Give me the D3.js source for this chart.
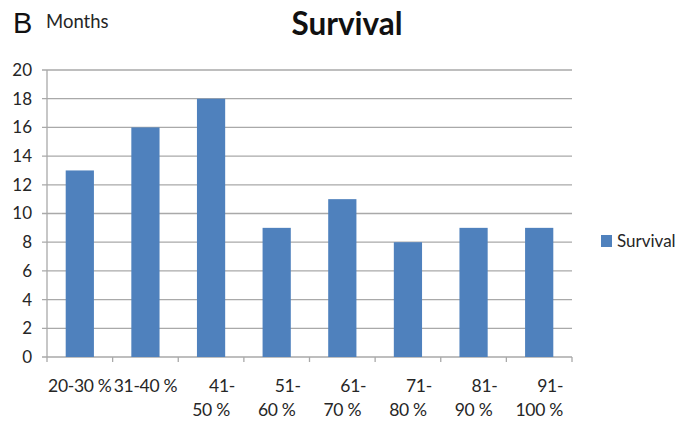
<!DOCTYPE html>
<html>
<head>
<meta charset="utf-8">
<script src="https://cdn.jsdelivr.net/npm/d3@7"></script>
<style>
  html, body { margin: 0; padding: 0; background: #fff; }
  svg { display: block; font-family: Lato, "Open Sans", sans-serif; }
</style>
</head>
<body>
<svg id="chart" width="679" height="422"></svg>
<script>
// Median survival (months) by range
const categories = ["20-30 %", "31-40 %", "41-|50 %", "51-|60 %", "61-|70 %", "71-|80 %", "81-|90 %", "91-|100 %"];
const survival = [13, 16, 18, 9, 11, 8, 9, 9];
const yTicks = [0, 2, 4, 6, 8, 10, 12, 14, 16, 18, 20];
const seriesName = "Survival";

const svg = d3.select("#chart");
const plot = { left: 47, right: 572, top: 70, bottom: 357 };
const barColor = "#4f81bd";
const gridColor = "#a9a9a9";
const textColor = "#262626";

const x = d3.scaleBand().domain(categories).range([plot.left, plot.right]).paddingInner(0.57).paddingOuter(0.285);
const y = d3.scaleLinear().domain([0, 20]).range([plot.bottom, plot.top]);

// Horizontal gridlines
svg.append("g").selectAll("line").data(yTicks).join("line")
  .attr("x1", plot.left - 5).attr("x2", plot.right)
  .attr("y1", d => y(d)).attr("y2", d => y(d))
  .attr("stroke", gridColor).attr("stroke-width", 1.3);

// Y axis line
svg.append("line")
  .attr("x1", plot.left).attr("x2", plot.left)
  .attr("y1", plot.top).attr("y2", plot.bottom)
  .attr("stroke", gridColor).attr("stroke-width", 1.3);

// Y tick labels
svg.append("g").selectAll("text").data(yTicks).join("text")
  .attr("x", 32).attr("y", d => y(d)).attr("dy", "0.35em")
  .attr("text-anchor", "end").attr("font-size", 17).attr("fill", textColor)
  .text(d => d);

// Bars
svg.append("g").selectAll("rect").data(survival).join("rect")
  .attr("x", (d, i) => x(categories[i]))
  .attr("width", x.bandwidth())
  .attr("y", d => y(d))
  .attr("height", d => y(0) - y(d))
  .attr("fill", barColor);

// X axis tick marks at category boundaries
const step = x.step();
const boundaries = d3.range(categories.length + 1).map(i => plot.left + i * step);
svg.append("g").selectAll("line").data(boundaries).join("line")
  .attr("x1", d => d).attr("x2", d => d)
  .attr("y1", plot.bottom).attr("y2", plot.bottom + 5)
  .attr("stroke", gridColor).attr("stroke-width", 1.3);

// X category labels (wrapped on "|"; first line of a wrapped label sits a little right)
const xl = svg.append("g").selectAll("text").data(categories).join("text")
  .attr("font-size", 17.5).attr("fill", textColor).attr("text-anchor", "middle")
  .attr("letter-spacing", -0.3)
  .attr("transform", d => `translate(${x(d) + x.bandwidth() / 2},392)`);
xl.selectAll("tspan").data(d => {
    const parts = d.split("|");
    return parts.map((t, i) => ({ t, i, wrapped: parts.length > 1 }));
  }).join("tspan")
  .attr("x", p => (p.wrapped && p.i === 0) ? 11 : 0)
  .attr("dy", p => p.i === 0 ? 0 : 24)
  .text(p => p.t);

// Title and labels
svg.append("text").attr("x", 13).attr("y", 33).attr("font-size", 29).attr("fill", "#111")
  .attr("font-family", "Liberation Sans, Arial, sans-serif").text("B");
svg.append("text").attr("x", 46).attr("y", 28).attr("font-size", 18.5).attr("fill", textColor).text("Months");
svg.append("text").attr("x", 347).attr("y", 35).attr("text-anchor", "middle")
  .attr("font-size", 31.5).attr("font-weight", "bold").attr("fill", "#111").text("Survival");

// Legend
const lg = svg.append("g").attr("transform", "translate(601,235)");
lg.append("rect").attr("width", 11).attr("height", 12).attr("fill", barColor);
lg.append("text").attr("x", 16).attr("y", 6).attr("dy", "0.35em").attr("font-size", 17).attr("fill", textColor).text(seriesName);
</script>
</body>
</html>
